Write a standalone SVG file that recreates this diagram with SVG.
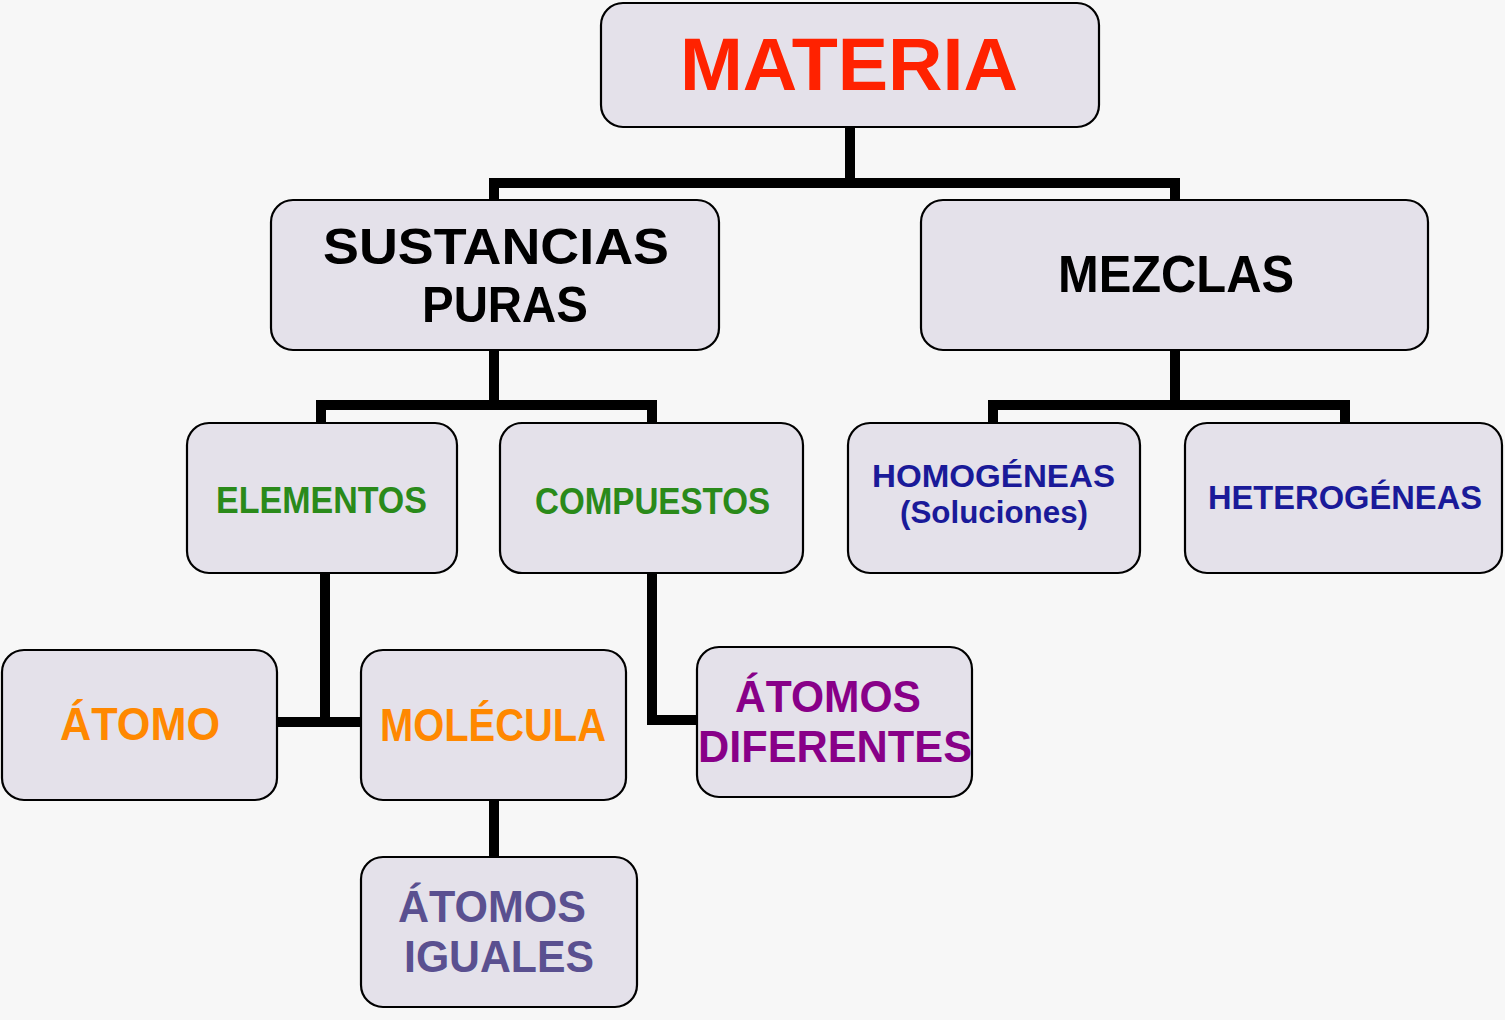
<svg xmlns="http://www.w3.org/2000/svg" width="1505" height="1020" viewBox="0 0 1505 1020">
<style>
.box{fill:#e4e1ea;stroke:#000;stroke-width:2.2}
.t{font-family:"Liberation Sans","DejaVu Sans",sans-serif;font-weight:700;text-anchor:middle}
.conn{fill:none;stroke:#000;stroke-width:10;stroke-linejoin:miter}
</style>
<rect width="1505" height="1020" fill="#f7f7f7"/>
<g id="connectors">
<path class="conn" d="M850 127V183M494 200V183H1175V200"/>
<path class="conn" d="M494 350V405M321 423V405H652V423"/>
<path class="conn" d="M1175 350V405M993 423V405H1345V423"/>
<path class="conn" d="M325 573V722M277 722H362"/>
<path class="conn" d="M494 800V857"/>
<path class="conn" d="M652 573V720H697"/>
</g>
<g id="materia">
<rect class="box" x="601" y="3" width="498" height="124" rx="22"/>
<text class="t" x="849" y="90" font-size="74" fill="#ff2200" textLength="338" lengthAdjust="spacingAndGlyphs">MATERIA</text>
</g>
<g id="sustancias">
<rect class="box" x="271" y="200" width="448" height="150" rx="22"/>
<text class="t" x="496" y="264" font-size="50" fill="#000" textLength="346" lengthAdjust="spacingAndGlyphs">SUSTANCIAS</text>
<text class="t" x="505" y="322" font-size="50" fill="#000" textLength="166" lengthAdjust="spacingAndGlyphs">PURAS</text>
</g>
<g id="mezclas">
<rect class="box" x="921" y="200" width="507" height="150" rx="22"/>
<text class="t" x="1176" y="292" font-size="52" fill="#000" textLength="236" lengthAdjust="spacingAndGlyphs">MEZCLAS</text>
</g>
<g id="elementos">
<rect class="box" x="187" y="423" width="270" height="150" rx="22"/>
<text class="t" x="321.5" y="513" font-size="37" fill="#2a8a1a" textLength="211" lengthAdjust="spacingAndGlyphs">ELEMENTOS</text>
</g>
<g id="compuestos">
<rect class="box" x="500" y="423" width="303" height="150" rx="22"/>
<text class="t" x="652.5" y="514" font-size="37" fill="#2a8a1a" textLength="235" lengthAdjust="spacingAndGlyphs">COMPUESTOS</text>
</g>
<g id="homogeneas">
<rect class="box" x="848" y="423" width="292" height="150" rx="22"/>
<text class="t" x="993.5" y="487" font-size="32" fill="#1a1a99" textLength="243" lengthAdjust="spacingAndGlyphs">HOMOGÉNEAS</text>
<text class="t" x="994" y="523" font-size="32" fill="#1a1a99" textLength="188" lengthAdjust="spacingAndGlyphs">(Soluciones)</text>
</g>
<g id="heterogeneas">
<rect class="box" x="1185" y="423" width="317" height="150" rx="22"/>
<text class="t" x="1345" y="509" font-size="33" fill="#1a1a99" textLength="274" lengthAdjust="spacingAndGlyphs">HETEROGÉNEAS</text>
</g>
<g id="atomo">
<rect class="box" x="2" y="650" width="275" height="150" rx="22"/>
<text class="t" x="140" y="740" font-size="46" fill="#ff8800" textLength="160" lengthAdjust="spacingAndGlyphs">ÁTOMO</text>
</g>
<g id="molecula">
<rect class="box" x="361" y="650" width="265" height="150" rx="22"/>
<text class="t" x="493" y="741" font-size="46" fill="#ff8800" textLength="226" lengthAdjust="spacingAndGlyphs">MOLÉCULA</text>
</g>
<g id="atomos-iguales">
<rect class="box" x="361" y="857" width="276" height="150" rx="22"/>
<text class="t" x="492" y="922" font-size="44" fill="#5a5090" textLength="188" lengthAdjust="spacingAndGlyphs">ÁTOMOS</text>
<text class="t" x="499" y="972" font-size="44" fill="#5a5090" textLength="190" lengthAdjust="spacingAndGlyphs">IGUALES</text>
</g>
<g id="atomos-diferentes">
<rect class="box" x="697" y="647" width="275" height="150" rx="22"/>
<text class="t" x="828" y="712" font-size="44" fill="#880088" textLength="186" lengthAdjust="spacingAndGlyphs">ÁTOMOS</text>
<text class="t" x="835" y="762" font-size="44" fill="#880088" textLength="274" lengthAdjust="spacingAndGlyphs">DIFERENTES</text>
</g>
</svg>
